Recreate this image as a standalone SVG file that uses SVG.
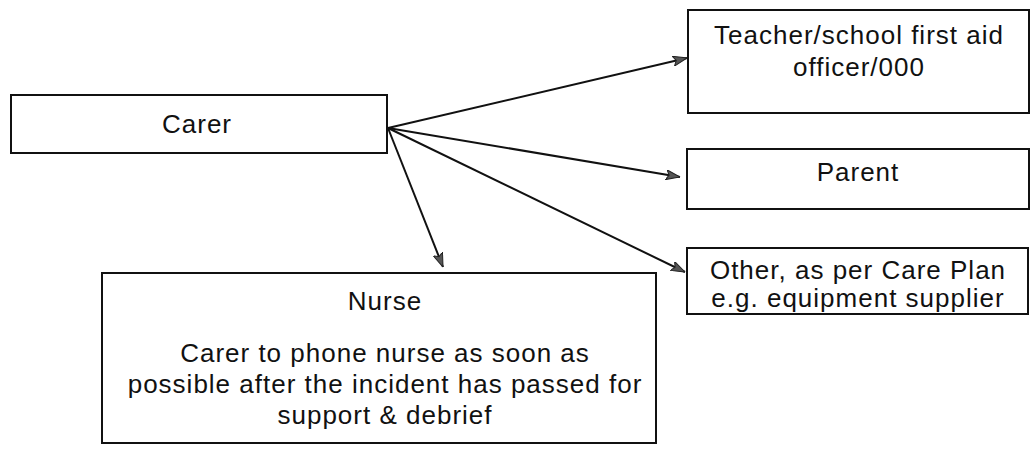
<svg xmlns="http://www.w3.org/2000/svg" width="1033" height="450" viewBox="0 0 1033 450">
<defs>
<marker id="ah" viewBox="0 0 14 10" refX="14" refY="5" markerWidth="14" markerHeight="10" markerUnits="userSpaceOnUse" orient="auto">
<path d="M0,0 L14,5 L0,10 L3,5 Z" fill="#555" stroke="#222" stroke-width="1"/>
</marker>
</defs>
<style>
.box{fill:#fff;stroke:#111;stroke-width:2}
.t{font-family:"Liberation Sans",Arial,sans-serif;font-size:26px;letter-spacing:1px;fill:#111;text-anchor:middle}
.c{stroke:#111;stroke-width:2;fill:none;marker-end:url(#ah)}
</style>
<rect width="1033" height="450" fill="#fff"/>
<g id="carer">
<rect class="box" x="11" y="95" width="376" height="58"/>
<text class="t" x="197" y="133">Carer</text>
</g>
<g id="teacher">
<rect class="box" x="688" y="10" width="341" height="103"/>
<text class="t" x="859" y="44">Teacher/school first aid</text>
<text class="t" x="859" y="76">officer/000</text>
</g>
<g id="parent">
<rect class="box" x="687" y="149" width="342" height="60"/>
<text class="t" x="858" y="181">Parent</text>
</g>
<g id="other">
<rect class="box" x="687" y="248" width="341" height="66"/>
<text class="t" x="858" y="279">Other, as per Care Plan</text>
<text class="t" x="858" y="307">e.g. equipment supplier</text>
</g>
<g id="nurse">
<rect class="box" x="102" y="273" width="554" height="170"/>
<text class="t" x="385" y="310">Nurse</text>
<text class="t" x="385" y="362">Carer to phone nurse as soon as</text>
<text class="t" x="385" y="393">possible after the incident has passed for</text>
<text class="t" x="385" y="424">support &amp; debrief</text>
</g>
<g id="connectors">
<line class="c" x1="388" y1="128" x2="687" y2="58"/>
<line class="c" x1="388" y1="128" x2="680" y2="177"/>
<line class="c" x1="388" y1="128" x2="685" y2="272"/>
<line class="c" x1="388" y1="128" x2="443" y2="267"/>
</g>
</svg>
